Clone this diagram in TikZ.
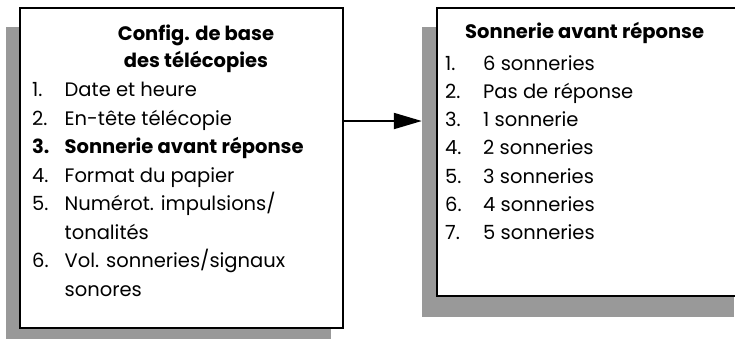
\documentclass[tikz,border=0pt]{standalone}
\usepackage{fontspec}
\setmainfont{Poppins}
\usetikzlibrary{positioning, arrows.meta, backgrounds}
\definecolor{ombre}{gray}{0.6}

\begin{document}
\begin{tikzpicture}[
    x=1pt, y=-1pt,
    cadre/.style={draw, line width=2pt, fill=white, inner sep=0pt},
    ombrage/.style={fill=ombre, inner sep=0pt},
    titre/.style={font=\fontsize{19.5}{27}\selectfont\bfseries, inner sep=0pt},
    liste/.style={font=\fontsize{19.5}{28.5}\selectfont, inner sep=0pt, anchor=base west},
    arr/.style={-{Triangle[length=28pt, width=16pt]}, line width=2pt}
  ]
  \useasboundingbox (0,0) rectangle (735,338);
  \clip (0,0) rectangle (735,338);

  \node[cadre, minimum width=323pt, minimum height=320.5pt] (menu) at (181.5,167.75) {};
  \node[cadre, minimum width=310pt, minimum height=288pt] (choix) at (592,152) {};
  \begin{scope}[on background layer]
    \clip (0,0) rectangle (735,338);
    \node[ombrage, minimum width=325pt, minimum height=322.5pt, xshift=-13pt, yshift=-20pt] (ombre1) at (menu.center) {};
    \node[ombrage, minimum width=312pt, minimum height=290pt, xshift=-14pt, yshift=-20pt] (ombre2) at (choix.center) {};
  \end{scope}

  % menu de gauche
  \node[titre, anchor=base] (titre1) at (196,40) {\begin{tabular}[t]{@{}c@{}}Config. de base\\des télécopies\end{tabular}};
  \node[liste] (liste1) at (32,96.7) {\begin{tabular}[t]{@{}p{32.5pt}@{}l@{}}
    1. & Date et heure\\
    2. & En-tête télécopie\\
    \textbf{3.} & \textbf{Sonnerie avant réponse}\\
    4. & Format du papier\\
    5. & Numérot. impulsions/\\
       & tonalités\\
    6. & Vol. sonneries/signaux\\
       & sonores
  \end{tabular}};

  % menu de droite
  \node[titre, anchor=base west] (titre2) at (465,38) {Sonnerie avant réponse};
  \node[liste, font=\fontsize{19.5}{28.3}\selectfont] (liste2) at (445,70) {\begin{tabular}[t]{@{}p{38pt}@{}l@{}}
    1. & 6 sonneries\\
    2. & Pas de réponse\\
    3. & 1 sonnerie\\
    4. & 2 sonneries\\
    5. & 3 sonneries\\
    6. & 4 sonneries\\
    7. & 5 sonneries
  \end{tabular}};

  \coordinate (lien) at (0,121);
  \draw[arr] (menu.east |- lien) -- (ombre2.west |- lien);
\end{tikzpicture}
\end{document}
